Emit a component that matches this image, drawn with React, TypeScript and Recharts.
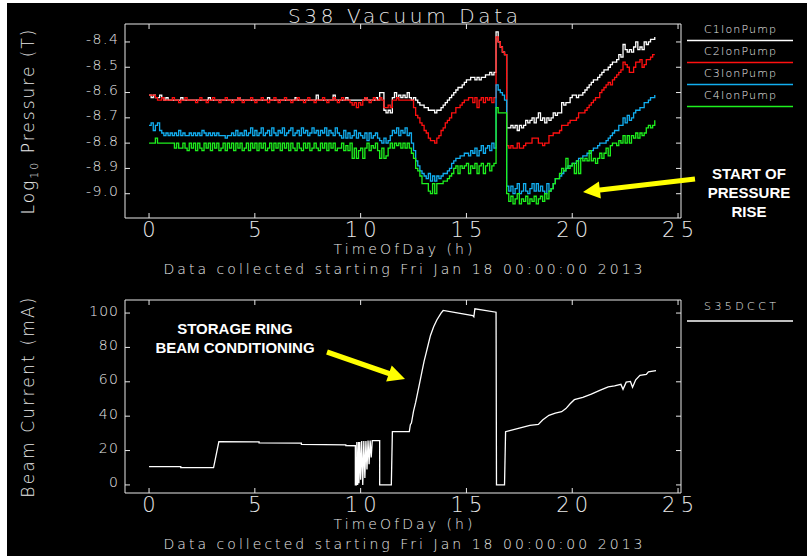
import { Legend, Line, LineChart, XAxis, YAxis } from "recharts";

// ion pump logger: one sample every 0.1 h from midnight
const SAMPLE_STEP_H = 0.1;

// log10 pressure (Torr), one row per hour of the day
const C1_ION_PUMP = [
  -8.61, -8.62, -8.61, -8.62, -8.62, -8.61, -8.62, -8.63, -8.62, -8.63,
  -8.63, -8.63, -8.63, -8.63, -8.63, -8.62, -8.63, -8.63, -8.63, -8.63,
  -8.63, -8.63, -8.63, -8.63, -8.63, -8.63, -8.63, -8.63, -8.62, -8.63,
  -8.63, -8.63, -8.63, -8.63, -8.63, -8.63, -8.63, -8.63, -8.63, -8.63,
  -8.63, -8.63, -8.62, -8.63, -8.63, -8.63, -8.63, -8.63, -8.63, -8.63,
  -8.63, -8.63, -8.63, -8.63, -8.63, -8.63, -8.62, -8.63, -8.63, -8.63,
  -8.63, -8.63, -8.63, -8.63, -8.63, -8.63, -8.63, -8.63, -8.63, -8.62,
  -8.63, -8.63, -8.63, -8.63, -8.63, -8.63, -8.63, -8.63, -8.63, -8.61,
  -8.63, -8.63, -8.63, -8.63, -8.63, -8.63, -8.63, -8.61, -8.63, -8.63,
  -8.63, -8.63, -8.63, -8.62, -8.63, -8.63, -8.63, -8.63, -8.63, -8.63,
  -8.63, -8.63, -8.62, -8.63, -8.63, -8.63, -8.63, -8.62, -8.63, -8.60,
  -8.60, -8.67, -8.68, -8.67, -8.68, -8.62, -8.60, -8.62, -8.61, -8.62,
  -8.61, -8.62, -8.60, -8.62, -8.63, -8.62, -8.63, -8.64, -8.65, -8.65,
  -8.66, -8.66, -8.67, -8.67, -8.67, -8.68, -8.67, -8.67, -8.66, -8.65,
  -8.64, -8.63, -8.62, -8.61, -8.60, -8.59, -8.58, -8.58, -8.57, -8.56,
  -8.55, -8.55, -8.54, -8.54, -8.55, -8.54, -8.55, -8.54, -8.54, -8.53,
  -8.53, -8.52, -8.53, -8.52, -8.36, -8.40, -8.42, -8.44, -8.45, -8.74,
  -8.74, -8.73, -8.74, -8.73, -8.75, -8.73, -8.74, -8.73, -8.71, -8.72,
  -8.71, -8.70, -8.72, -8.70, -8.68, -8.71, -8.70, -8.72, -8.70, -8.71,
  -8.70, -8.68, -8.69, -8.68, -8.68, -8.64, -8.65, -8.64, -8.64, -8.62,
  -8.61, -8.61, -8.62, -8.61, -8.61, -8.60, -8.59, -8.58, -8.57, -8.56,
  -8.55, -8.55, -8.54, -8.53, -8.52, -8.51, -8.51, -8.50, -8.49, -8.48,
  -8.48, -8.47, -8.45, -8.46, -8.41, -8.43, -8.44, -8.43, -8.44, -8.42,
  -8.40, -8.43, -8.42, -8.43, -8.40, -8.41, -8.40, -8.39, -8.39, -8.38,
];

const C2_ION_PUMP = [
  -8.61, -8.61, -8.61, -8.62, -8.63, -8.63, -8.62, -8.63, -8.63, -8.63,
  -8.63, -8.62, -8.63, -8.63, -8.64, -8.63, -8.63, -8.62, -8.63, -8.63,
  -8.63, -8.63, -8.64, -8.63, -8.62, -8.63, -8.63, -8.64, -8.63, -8.63,
  -8.62, -8.63, -8.63, -8.64, -8.63, -8.63, -8.62, -8.63, -8.63, -8.64,
  -8.63, -8.63, -8.62, -8.63, -8.64, -8.63, -8.63, -8.63, -8.62, -8.63,
  -8.64, -8.63, -8.63, -8.62, -8.63, -8.63, -8.64, -8.63, -8.63, -8.62,
  -8.63, -8.64, -8.63, -8.63, -8.62, -8.63, -8.63, -8.64, -8.63, -8.63,
  -8.62, -8.63, -8.63, -8.64, -8.63, -8.62, -8.63, -8.63, -8.64, -8.63,
  -8.63, -8.63, -8.62, -8.63, -8.64, -8.63, -8.63, -8.62, -8.63, -8.64,
  -8.63, -8.62, -8.63, -8.63, -8.63, -8.64, -8.65, -8.64, -8.66, -8.64,
  -8.65, -8.63, -8.62, -8.63, -8.64, -8.63, -8.62, -8.63, -8.63, -8.62,
  -8.63, -8.66, -8.66, -8.65, -8.66, -8.63, -8.63, -8.62, -8.63, -8.63,
  -8.63, -8.63, -8.63, -8.63, -8.63, -8.66, -8.69, -8.70, -8.72, -8.73,
  -8.75, -8.76, -8.78, -8.79, -8.79, -8.80, -8.78, -8.77, -8.75, -8.74,
  -8.72, -8.71, -8.70, -8.68, -8.68, -8.66, -8.66, -8.65, -8.64, -8.63,
  -8.63, -8.62, -8.62, -8.64, -8.62, -8.66, -8.63, -8.62, -8.64, -8.62,
  -8.63, -8.62, -8.64, -8.62, -8.38, -8.40, -8.42, -8.44, -8.45, -8.81,
  -8.82, -8.81, -8.82, -8.82, -8.80, -8.82, -8.82, -8.81, -8.80, -8.80,
  -8.80, -8.78, -8.78, -8.78, -8.80, -8.80, -8.81, -8.80, -8.80, -8.77,
  -8.77, -8.76, -8.76, -8.76, -8.75, -8.73, -8.73, -8.73, -8.72, -8.71,
  -8.71, -8.71, -8.70, -8.68, -8.68, -8.68, -8.67, -8.66, -8.65, -8.64,
  -8.63, -8.62, -8.62, -8.60, -8.59, -8.58, -8.57, -8.56, -8.57, -8.55,
  -8.54, -8.53, -8.52, -8.51, -8.48, -8.49, -8.50, -8.52, -8.52, -8.50,
  -8.48, -8.48, -8.47, -8.50, -8.49, -8.47, -8.47, -8.46, -8.45, -8.45,
];

const C3_ION_PUMP = [
  -8.73, -8.72, -8.75, -8.73, -8.72, -8.75, -8.76, -8.77, -8.76, -8.77,
  -8.76, -8.77, -8.76, -8.77, -8.75, -8.77, -8.76, -8.77, -8.77, -8.76,
  -8.77, -8.76, -8.77, -8.76, -8.77, -8.75, -8.76, -8.77, -8.76, -8.77,
  -8.76, -8.77, -8.76, -8.77, -8.77, -8.77, -8.78, -8.77, -8.77, -8.76,
  -8.77, -8.75, -8.77, -8.76, -8.77, -8.75, -8.77, -8.76, -8.74, -8.77,
  -8.75, -8.77, -8.76, -8.74, -8.77, -8.76, -8.75, -8.77, -8.74, -8.76,
  -8.77, -8.75, -8.76, -8.74, -8.77, -8.76, -8.75, -8.74, -8.77, -8.76,
  -8.75, -8.77, -8.74, -8.76, -8.75, -8.77, -8.76, -8.74, -8.76, -8.75,
  -8.77, -8.75, -8.76, -8.74, -8.77, -8.75, -8.76, -8.77, -8.74, -8.76,
  -8.77, -8.78, -8.75, -8.78, -8.76, -8.78, -8.77, -8.75, -8.78, -8.76,
  -8.77, -8.78, -8.76, -8.79, -8.76, -8.78, -8.77, -8.76, -8.78, -8.79,
  -8.80, -8.78, -8.80, -8.79, -8.77, -8.75, -8.76, -8.74, -8.77, -8.75,
  -8.76, -8.74, -8.77, -8.76, -8.80, -8.83, -8.87, -8.89, -8.91, -8.92,
  -8.93, -8.94, -8.92, -8.95, -8.93, -8.95, -8.93, -8.94, -8.93, -8.92,
  -8.92, -8.91, -8.90, -8.88, -8.87, -8.86, -8.86, -8.85, -8.85, -8.84,
  -8.84, -8.85, -8.83, -8.84, -8.82, -8.85, -8.83, -8.81, -8.84, -8.82,
  -8.81, -8.83, -8.80, -8.82, -8.57, -8.59, -8.60, -8.61, -8.63, -8.97,
  -8.99, -8.97, -9.00, -8.98, -8.96, -9.00, -8.99, -8.96, -8.99, -9.00,
  -8.98, -8.96, -8.99, -8.96, -8.99, -8.97, -8.99, -9.00, -8.96, -8.99,
  -8.98, -8.96, -8.94, -8.94, -8.93, -8.92, -8.91, -8.90, -8.89, -8.89,
  -8.88, -8.88, -8.87, -8.86, -8.86, -8.85, -8.85, -8.84, -8.84, -8.83,
  -8.82, -8.82, -8.81, -8.80, -8.80, -8.80, -8.79, -8.78, -8.77, -8.76,
  -8.75, -8.75, -8.73, -8.73, -8.70, -8.72, -8.69, -8.71, -8.70, -8.68,
  -8.67, -8.67, -8.66, -8.66, -8.64, -8.64, -8.63, -8.62, -8.62, -8.61,
];

const C4_ION_PUMP = [
  -8.80, -8.80, -8.80, -8.78, -8.80, -8.80, -8.80, -8.80, -8.80, -8.80,
  -8.80, -8.80, -8.82, -8.80, -8.82, -8.82, -8.80, -8.82, -8.83, -8.80,
  -8.82, -8.80, -8.83, -8.80, -8.82, -8.83, -8.80, -8.82, -8.80, -8.83,
  -8.80, -8.82, -8.80, -8.83, -8.82, -8.80, -8.83, -8.80, -8.82, -8.80,
  -8.83, -8.80, -8.82, -8.80, -8.83, -8.82, -8.80, -8.83, -8.80, -8.82,
  -8.80, -8.83, -8.80, -8.82, -8.80, -8.83, -8.82, -8.80, -8.83, -8.80,
  -8.82, -8.80, -8.83, -8.80, -8.82, -8.80, -8.83, -8.80, -8.82, -8.83,
  -8.80, -8.82, -8.83, -8.80, -8.82, -8.80, -8.83, -8.82, -8.80, -8.82,
  -8.83, -8.80, -8.82, -8.80, -8.83, -8.80, -8.82, -8.80, -8.83, -8.82,
  -8.82, -8.80, -8.83, -8.81, -8.83, -8.80, -8.86, -8.82, -8.86, -8.83,
  -8.82, -8.86, -8.82, -8.80, -8.83, -8.81, -8.82, -8.80, -8.83, -8.86,
  -8.82, -8.86, -8.85, -8.82, -8.80, -8.82, -8.80, -8.81, -8.80, -8.82,
  -8.80, -8.82, -8.80, -8.82, -8.84, -8.86, -8.90, -8.91, -8.93, -8.96,
  -8.96, -8.96, -8.99, -9.00, -8.96, -9.00, -8.96, -8.96, -8.96, -8.95,
  -8.95, -8.94, -8.93, -8.92, -8.90, -8.89, -8.92, -8.89, -8.90, -8.89,
  -8.88, -8.92, -8.89, -8.90, -8.88, -8.92, -8.89, -8.88, -8.92, -8.89,
  -8.88, -8.91, -8.89, -8.88, -8.66, -8.68, -8.68, -8.68, -8.68, -9.00,
  -9.03, -9.01, -9.04, -9.02, -9.00, -9.04, -9.02, -9.03, -9.01, -9.04,
  -9.02, -9.03, -9.01, -9.04, -9.02, -9.01, -9.03, -9.00, -9.02, -8.99,
  -8.98, -8.96, -8.94, -8.94, -8.92, -8.90, -8.91, -8.86, -8.90, -8.89,
  -8.88, -8.92, -8.87, -8.92, -8.86, -8.87, -8.86, -8.87, -8.83, -8.87,
  -8.86, -8.88, -8.86, -8.84, -8.86, -8.84, -8.82, -8.85, -8.81, -8.80,
  -8.80, -8.81, -8.79, -8.80, -8.77, -8.80, -8.77, -8.80, -8.77, -8.78,
  -8.76, -8.78, -8.76, -8.77, -8.76, -8.74, -8.73, -8.74, -8.73, -8.71,
];

// S35 DCCT beam current: [hour, mA]
const S35DCCT_READINGS: [number, number][] = [
  [0, 10.6], [1.5, 10.6], [1.5, 10.1], [3.05, 10.1], [3.3, 25.2], [5.2, 25.0],
  [5.2, 24.5], [7.2, 24.3], [7.2, 23.6], [9.3, 23.3], [9.3, 22.9], [9.75, 22.8],
  [9.75, 0], [9.8, 0], [9.82, 25], [9.86, 0], [9.9, 25], [9.92, 1], [9.96, 25],
  [10.0, 3], [10.05, 25.5], [10.1, 0], [10.15, 25.5], [10.2, 4], [10.25, 25.5],
  [10.3, 9], [10.35, 25.8], [10.4, 12], [10.45, 25.8], [10.5, 16], [10.55, 25.8],
  [10.9, 25.8], [10.9, 0], [11.45, 0], [11.5, 31], [12.3, 31], [12.35, 35],
  [12.4, 36], [12.5, 43], [12.6, 48], [12.7, 54], [12.8, 60], [12.9, 66],
  [13.0, 72], [13.1, 77], [13.2, 82], [13.3, 87], [13.45, 92], [13.6, 96],
  [13.8, 100], [13.9, 101.5], [15.3, 98.5], [15.35, 97.8], [15.4, 102.5],
  [16.4, 100.5], [16.42, 0], [16.8, 0], [16.85, 31], [17.0, 31.5], [17.5, 33],
  [18.0, 34.6], [18.4, 35.2], [18.6, 37.8], [18.9, 40.5], [19.2, 41.8],
  [19.5, 42.6], [19.7, 44.4], [19.9, 47.2], [20.1, 49.6], [20.5, 51],
  [20.9, 52.8], [21.3, 55], [21.7, 57], [22.0, 57.6], [22.3, 58.5],
  [22.4, 55.6], [22.55, 59.8], [22.75, 60.2], [22.85, 56.8], [23.0, 61.2],
  [23.2, 63.8], [23.5, 64.3], [23.6, 65.8], [23.96, 66.5],
];

const HOUR_TICKS = [0, 5, 10, 15, 20, 25];
const PRESSURE_TICKS = [-9.0, -8.9, -8.8, -8.7, -8.6, -8.5, -8.4];
const CURRENT_TICKS = [0, 20, 40, 60, 80, 100];

const HOUR_DOMAIN = [-1.136, 25.14];
const PRESSURE_DOMAIN = [-9.096, -8.329];
const CURRENT_DOMAIN = [-4.7, 107.6];

const PUMPS = [
  { key: "c1", name: "C1IonPump", color: "#ffffff" },
  { key: "c2", name: "C2IonPump", color: "#ff1010" },
  { key: "c3", name: "C3IonPump", color: "#12aef0" },
  { key: "c4", name: "C4IonPump", color: "#1ef01e" },
];

const pressureRows = C1_ION_PUMP.map((v, i) => ({
  hour: Math.round(i * SAMPLE_STEP_H * 10) / 10,
  c1: v,
  c2: C2_ION_PUMP[i],
  c3: C3_ION_PUMP[i],
  c4: C4_ION_PUMP[i],
}));

const beamRows = S35DCCT_READINGS.map(([hour, ma]) => ({ hour, ma }));

const FONT = "'DejaVu Sans', sans-serif";
const INK = "#e8e8e8";
const TICK_LEN = 5;
const FRAME = { stroke: INK, strokeWidth: 1 };

const HourTick = (props: any) => {
  const { x, y, payload } = props;
  const label = String(payload.value);
  return (
    <g>
      <line x1={x} x2={x} y1={y} y2={y - TICK_LEN} stroke={INK} />
      <text
        x={x}
        y={y + 19}
        textAnchor="middle"
        fill={INK}
        fontSize={21}
        fontWeight={200}
        fontFamily={FONT}
        textLength={label.length > 1 ? 32 : undefined}
        lengthAdjust="spacing"
      >
        {label}
      </text>
    </g>
  );
};

const makeValueTick = (format: (v: number) => string, charWidth: number) => (props: any) => {
  const { x, y, payload } = props;
  const label = format(payload.value);
  return (
    <g>
      <line x1={x} x2={x + TICK_LEN} y1={y} y2={y} stroke={INK} />
      <text
        x={x - 7}
        y={y + 2.5}
        textAnchor="end"
        fill={INK}
        fontSize={14}
        fontWeight={200}
        fontFamily={FONT}
        textLength={label.length * charWidth}
        lengthAdjust="spacing"
      >
        {label}
      </text>
    </g>
  );
};

const PressureTick = makeValueTick((v) => v.toFixed(1), 8);
const CurrentTick = makeValueTick((v) => String(v), 9.6);

const NoLabel = () => <g />;

const TimeAxisLabel = (props: any) => {
  const { x, y, width } = props.viewBox;
  const cx = x + width / 2;
  return (
    <g fill={INK} fontFamily={FONT} fontWeight={200} fontSize={14} textAnchor="middle">
      <text x={cx} y={y + 36} textLength={139} lengthAdjust="spacing">
        TimeOfDay (h)
      </text>
      <text x={cx} y={y + 56} textLength={479} lengthAdjust="spacing">
        Data collected starting Fri Jan 18 00:00:00 2013
      </text>
    </g>
  );
};

const TitleLabel = (props: any) => {
  const { x, width } = props.viewBox;
  return (
    <text
      x={x + width / 2}
      y={23}
      textAnchor="middle"
      fill={INK}
      fontFamily={FONT}
      fontWeight={200}
      fontSize={20}
      textLength={230}
      lengthAdjust="spacing"
    >
      S38 Vacuum Data
    </text>
  );
};

const PressureAxisLabel = (props: any) => {
  const { y, height } = props.viewBox;
  const cx = 34;
  const cy = y + height / 2;
  return (
    <text
      x={cx}
      y={cy}
      transform={`rotate(-90 ${cx} ${cy})`}
      textAnchor="middle"
      fill={INK}
      fontFamily={FONT}
      fontWeight={200}
      fontSize={17}
      letterSpacing={2}
    >
      Log
      <tspan fontSize={11} dy={4}>
        10
      </tspan>
      <tspan dy={-4}> Pressure (T)</tspan>
    </text>
  );
};

const CurrentAxisLabel = (props: any) => {
  const { y, height } = props.viewBox;
  const cx = 34;
  const cy = y + height / 2;
  return (
    <text
      x={cx}
      y={cy}
      transform={`rotate(-90 ${cx} ${cy})`}
      textAnchor="middle"
      fill={INK}
      fontFamily={FONT}
      fontWeight={200}
      fontSize={17}
      letterSpacing={2.2}
    >
      Beam Current (mA)
    </text>
  );
};

const sideLegend = (textY: number, lineY: number) => (props: any) => {
  const items = props.payload ?? [];
  return (
    <svg width={112} height={items.length * 22 + 10} style={{ display: "block" }}>
      {items.map((it: any, i: number) => (
        <g key={it.value}>
          <text
            x={53}
            y={textY + i * 22}
            textAnchor="middle"
            fill={INK}
            fontFamily={FONT}
            fontWeight={200}
            fontSize={11}
            textLength={72}
            lengthAdjust="spacing"
          >
            {it.value}
          </text>
          <line x1={0} x2={106} y1={lineY + i * 22} y2={lineY + i * 22} stroke={it.color} strokeWidth={1.5} />
        </g>
      ))}
    </svg>
  );
};

const arrowPoints = (from: number[], to: number[], shaft = 2.6, head = 8.5, headLen = 17) => {
  const [x1, y1] = from;
  const [x2, y2] = to;
  const len = Math.hypot(x2 - x1, y2 - y1);
  const ux = (x2 - x1) / len;
  const uy = (y2 - y1) / len;
  const nx = -uy;
  const ny = ux;
  const bx = x2 - ux * headLen;
  const by = y2 - uy * headLen;
  return [
    [x1 + nx * shaft, y1 + ny * shaft],
    [bx + nx * shaft, by + ny * shaft],
    [bx + nx * head, by + ny * head],
    [x2, y2],
    [bx - nx * head, by - ny * head],
    [bx - nx * shaft, by - ny * shaft],
    [x1 - nx * shaft, y1 - ny * shaft],
  ]
    .map((p) => p.join(","))
    .join(" ");
};

const NOTE_STYLE = {
  fill: "#ffffff",
  fontFamily: "'Liberation Sans', Arial, sans-serif",
  fontWeight: 700,
  fontSize: 15,
} as const;

export default function App() {
  return (
    <div style={{ position: "absolute", left: 0, top: 0, width: 807, height: 556, background: "#ffffff", overflow: "hidden" }}>
      <div style={{ position: "absolute", left: 7, top: 3, width: 800, height: 553, background: "#000000" }} />

      <div style={{ position: "absolute", left: 0, top: 0 }}>
        <LineChart width={807} height={280} data={pressureRows} margin={{ top: 24, right: 126, bottom: 0, left: 0 }}>
          <XAxis
            dataKey="hour"
            type="number"
            domain={HOUR_DOMAIN}
            ticks={HOUR_TICKS}
            allowDataOverflow
            height={62}
            axisLine={FRAME}
            tickLine={false}
            tickSize={0}
            tickMargin={0}
            tick={HourTick}
            label={{ content: TimeAxisLabel }}
          />
          <XAxis
            xAxisId="top"
            orientation="top"
            dataKey="hour"
            type="number"
            domain={HOUR_DOMAIN}
            ticks={HOUR_TICKS}
            allowDataOverflow
            height={1}
            mirror
            axisLine={FRAME}
            tickLine={FRAME}
            tickSize={TICK_LEN}
            tick={NoLabel}
            label={{ content: TitleLabel }}
          />
          <YAxis
            type="number"
            domain={PRESSURE_DOMAIN}
            ticks={PRESSURE_TICKS}
            allowDataOverflow
            width={125}
            axisLine={FRAME}
            tickLine={false}
            tickSize={0}
            tickMargin={0}
            tick={PressureTick}
            label={{ content: PressureAxisLabel }}
          />
          <YAxis
            yAxisId="right"
            orientation="right"
            type="number"
            domain={PRESSURE_DOMAIN}
            ticks={PRESSURE_TICKS}
            allowDataOverflow
            width={1}
            mirror
            axisLine={FRAME}
            tickLine={FRAME}
            tickSize={TICK_LEN}
            tick={NoLabel}
          />
          {PUMPS.map((p) => (
            <Line
              key={p.key}
              dataKey={p.key}
              name={p.name}
              type="stepAfter"
              stroke={p.color}
              strokeWidth={1.3}
              dot={false}
              activeDot={false}
              isAnimationActive={false}
            />
          ))}
          <Legend
            layout="vertical"
            align="center"
            verticalAlign="middle"
            wrapperStyle={{ left: 687, top: 20, width: 112, height: 100 }}
            content={sideLegend(13, 20.5)}
          />
        </LineChart>
      </div>

      <div style={{ position: "absolute", left: 0, top: 280 }}>
        <LineChart width={807} height={276} data={beamRows} margin={{ top: 20, right: 126, bottom: 0, left: 0 }}>
          <XAxis
            dataKey="hour"
            type="number"
            domain={HOUR_DOMAIN}
            ticks={HOUR_TICKS}
            allowDataOverflow
            height={63}
            axisLine={FRAME}
            tickLine={false}
            tickSize={0}
            tickMargin={0}
            tick={HourTick}
            label={{ content: TimeAxisLabel }}
          />
          <XAxis
            xAxisId="top"
            orientation="top"
            dataKey="hour"
            type="number"
            domain={HOUR_DOMAIN}
            ticks={HOUR_TICKS}
            allowDataOverflow
            height={1}
            mirror
            axisLine={FRAME}
            tickLine={FRAME}
            tickSize={TICK_LEN}
            tick={NoLabel}
          />
          <YAxis
            type="number"
            domain={CURRENT_DOMAIN}
            ticks={CURRENT_TICKS}
            allowDataOverflow
            width={125}
            axisLine={FRAME}
            tickLine={false}
            tickSize={0}
            tickMargin={0}
            tick={CurrentTick}
            label={{ content: CurrentAxisLabel }}
          />
          <YAxis
            yAxisId="right"
            orientation="right"
            type="number"
            domain={CURRENT_DOMAIN}
            ticks={CURRENT_TICKS}
            allowDataOverflow
            width={1}
            mirror
            axisLine={FRAME}
            tickLine={FRAME}
            tickSize={TICK_LEN}
            tick={NoLabel}
          />
          <Line
            dataKey="ma"
            name="S35DCCT"
            type="linear"
            stroke="#ffffff"
            strokeWidth={1.3}
            dot={false}
            activeDot={false}
            isAnimationActive={false}
          />
          <Legend
            layout="vertical"
            align="center"
            verticalAlign="middle"
            wrapperStyle={{ left: 687, top: 17, width: 112, height: 40 }}
            content={sideLegend(13, 24)}
          />
        </LineChart>
      </div>

      <svg width={807} height={556} style={{ position: "absolute", left: 0, top: 0, pointerEvents: "none" }}>
        <polygon points={arrowPoints([695, 179], [583, 192])} fill="#ffff00" />
        <text x={749} y={179} textAnchor="middle" {...NOTE_STYLE}>START OF</text>
        <text x={749} y={198} textAnchor="middle" {...NOTE_STYLE}>PRESSURE</text>
        <text x={749} y={217} textAnchor="middle" {...NOTE_STYLE}>RISE</text>

        <polygon points={arrowPoints([327, 352], [405, 379])} fill="#ffff00" />
        <text x={235} y={334} textAnchor="middle" {...NOTE_STYLE}>STORAGE RING</text>
        <text x={235} y={353} textAnchor="middle" {...NOTE_STYLE}>BEAM CONDITIONING</text>
      </svg>
    </div>
  );
}
